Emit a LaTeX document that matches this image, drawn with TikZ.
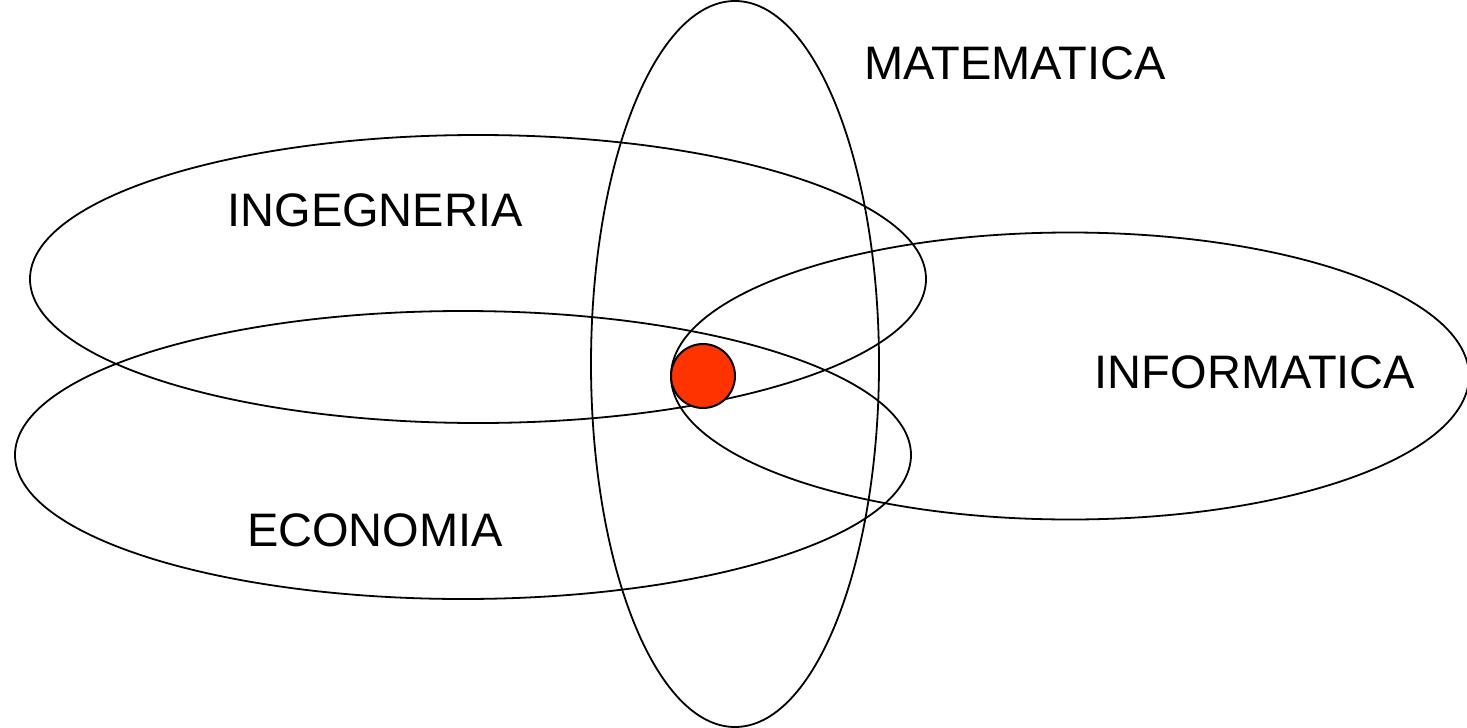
\documentclass[tikz,border=0pt]{standalone}
\usepackage{fontspec}
\setmainfont{Liberation Sans}
\begin{document}
\begin{tikzpicture}[x=1pt,y=-1pt,
  ring/.style={draw=black,line width=1.8pt},
  lbl/.style={font=\fontsize{47}{52}\selectfont,inner sep=0pt}]
\useasboundingbox (0,0) rectangle (1467,728);
\draw[ring] (735,364) ellipse [x radius=144, y radius=363];
\draw[ring] (478,279) ellipse [x radius=448, y radius=144];
\draw[ring] (463,455) ellipse [x radius=448, y radius=144];
\draw[ring] (1070,376) ellipse [x radius=399, y radius=143.5];
\node[circle,draw=black,line width=2pt,fill={rgb,255:red,255;green,51;blue,0},minimum size=64pt,inner sep=0pt] (dot) at (703,376) {};
\node[lbl] (mat) at (1015,63) {MATEMATICA};
\node[lbl] (ing) at (375,210) {INGEGNERIA};
\node[lbl] (eco) at (375,530) {ECONOMIA};
\node[lbl] (inf) at (1255,372) {INFORMATICA};
\end{tikzpicture}
\end{document}
